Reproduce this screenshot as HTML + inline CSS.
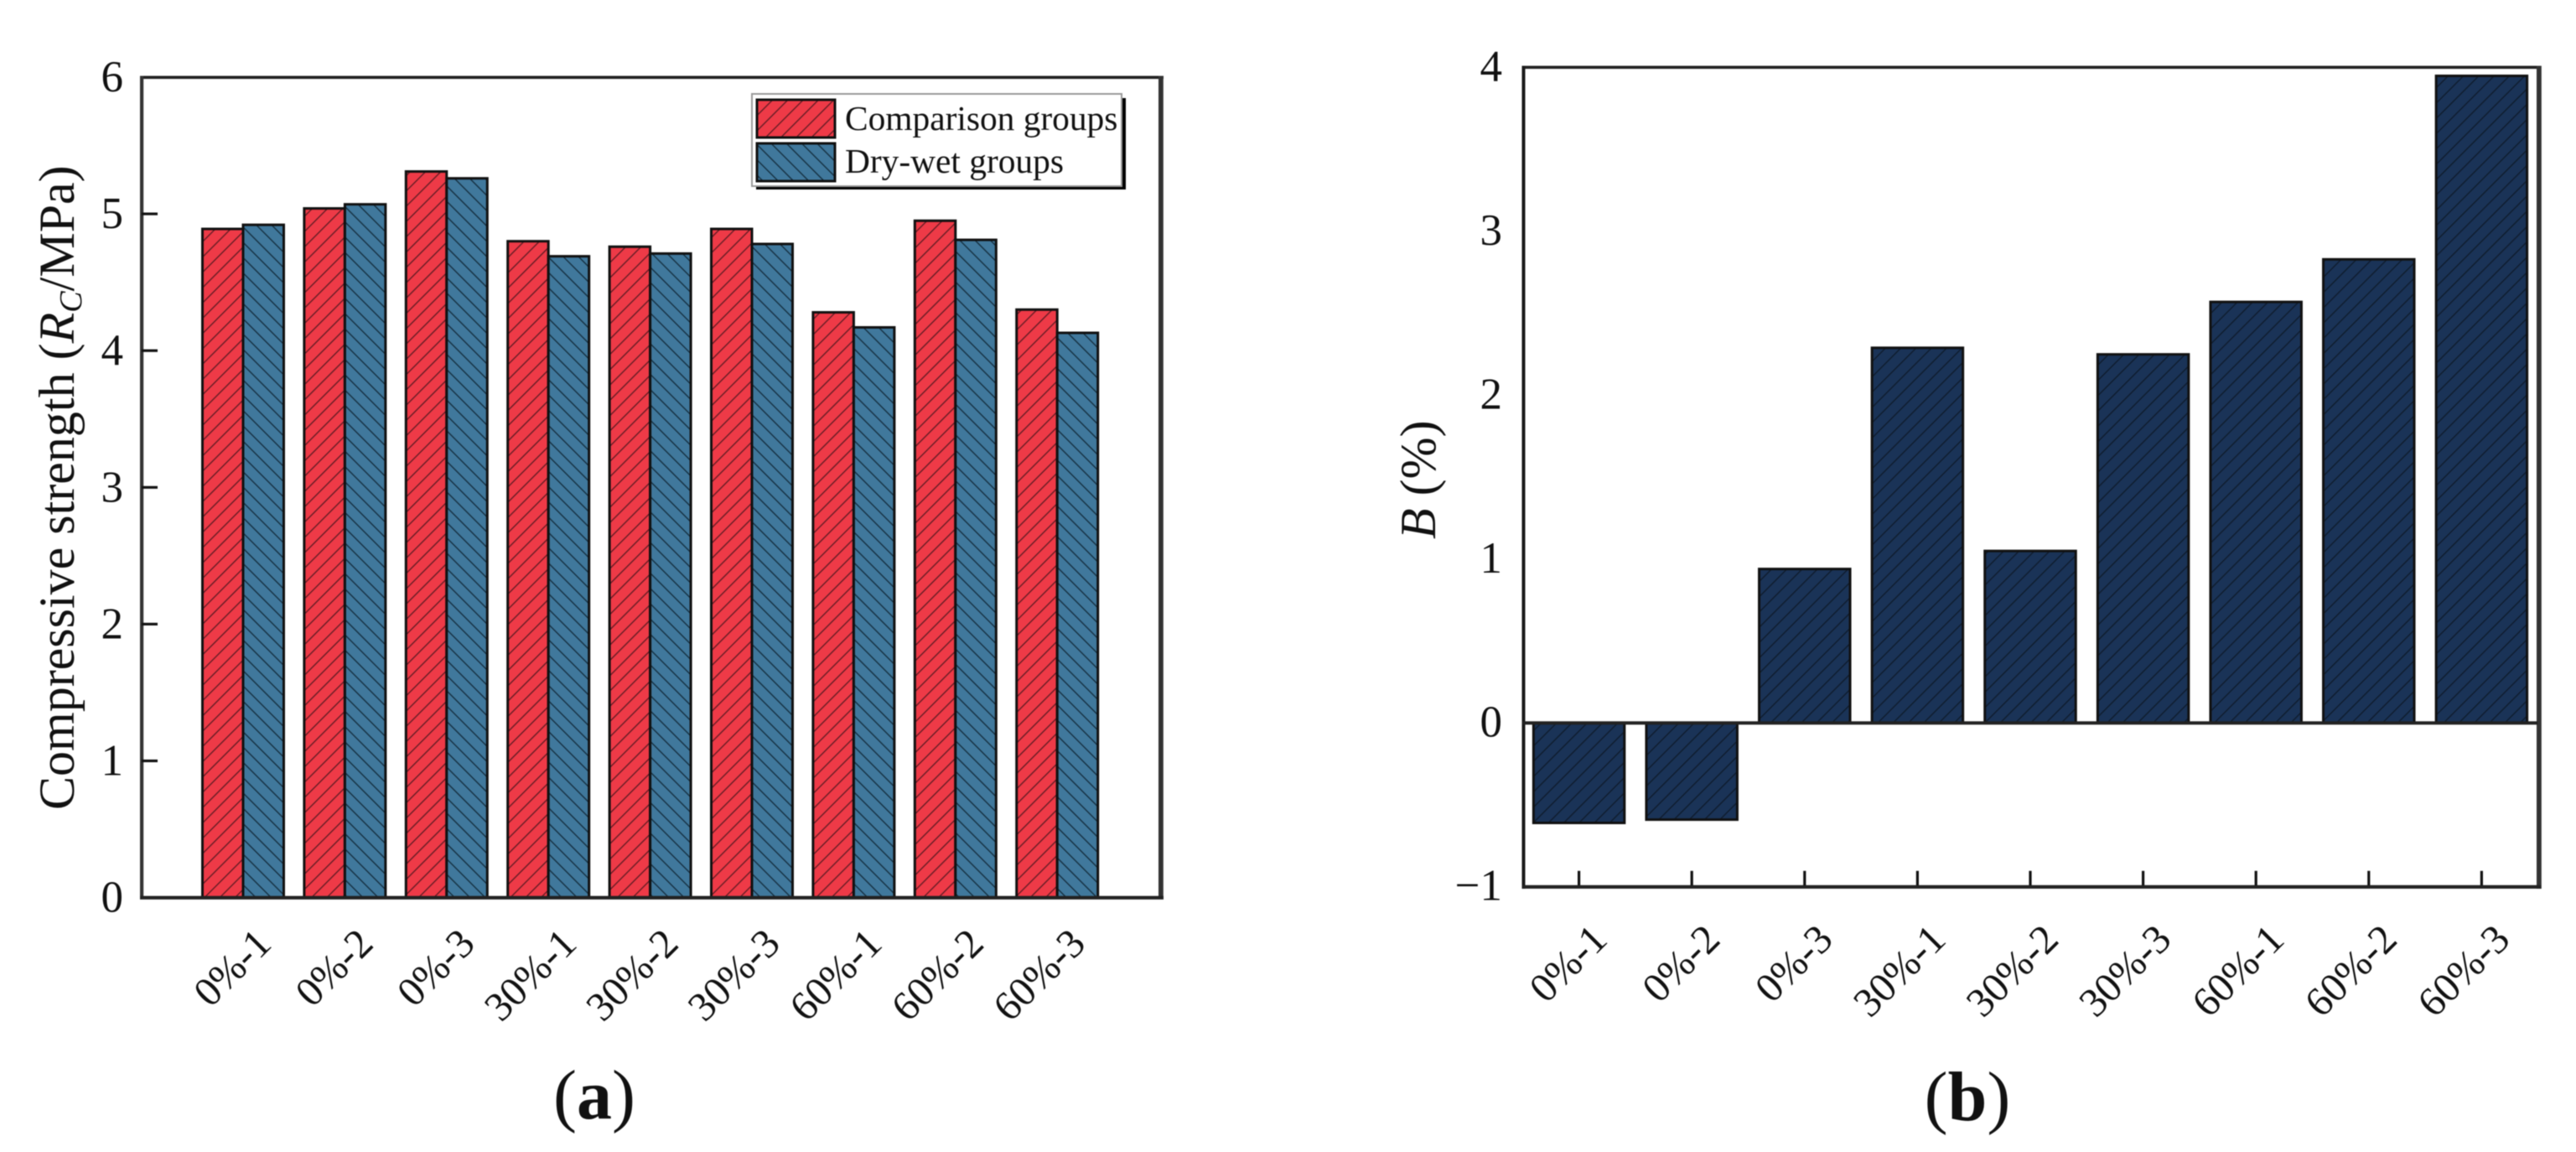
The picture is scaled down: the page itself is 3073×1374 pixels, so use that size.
<!DOCTYPE html>
<html>
<head>
<meta charset="utf-8">
<title>Compressive strength and B</title>
<style>
  html, body { margin: 0; padding: 0; background: #fff; }
  svg { display: block; filter: blur(0.5px); }
  text { font-family: "Liberation Serif", serif; fill: #111; }
</style>
</head>
<body>
<svg id="figure" xmlns="http://www.w3.org/2000/svg" width="3073" height="1374" viewBox="0 0 3073 1374">
  <defs>
    <pattern id="hatch-red" patternUnits="userSpaceOnUse" width="12.9" height="12.9" patternTransform="rotate(45)">
      <rect width="12.9" height="12.9" fill="#ee3a47"/>
      <rect x="0" y="0" width="1.3" height="12.9" fill="#5a1a22"/>
    </pattern>
    <pattern id="hatch-blue" patternUnits="userSpaceOnUse" width="12.9" height="12.9" patternTransform="rotate(-45)">
      <rect width="12.9" height="12.9" fill="#40789c"/>
      <rect x="0" y="0" width="1.3" height="12.9" fill="#122a3a"/>
    </pattern>
    <pattern id="hatch-navy" patternUnits="userSpaceOnUse" width="12.9" height="12.9" patternTransform="rotate(45)">
      <rect width="12.9" height="12.9" fill="#1a3357"/>
      <rect x="0" y="0" width="1.3" height="12.9" fill="#0e1a2a"/>
    </pattern>
  </defs>
  <rect width="3073" height="1374" fill="#fff"/>

  <g id="panel-a"></g>
  <g id="panel-b"></g>

  <text transform="translate(88,966) rotate(-90)" font-size="60">Compressive strength (<tspan font-style="italic">R</tspan><tspan font-style="italic" font-size="38" dy="9">C</tspan><tspan dy="-9">/MPa)</tspan></text>
  <text transform="translate(1712,643) rotate(-90)" font-size="60"><tspan font-style="italic">B</tspan> (%)</text>

  <g>
    <rect x="902" y="117" width="441" height="109" fill="#000"/>
    <rect x="897" y="112" width="441" height="110" fill="#fff" stroke="#999" stroke-width="2"/>
    <rect x="903" y="119" width="93" height="45" fill="url(#hatch-red)" stroke="#111" stroke-width="3"/>
    <rect x="903" y="171" width="93" height="45" fill="url(#hatch-blue)" stroke="#111" stroke-width="3"/>
    <text x="1008" y="155" font-size="41.4">Comparison groups</text>
    <text x="1008" y="206" font-size="41.4">Dry-wet groups</text>
  </g>

  <text x="709" y="1334" font-size="84" text-anchor="middle">(<tspan font-weight="bold">a</tspan>)</text>
  <text x="2347" y="1336" font-size="84" text-anchor="middle">(<tspan font-weight="bold">b</tspan>)</text>
</svg>

<script>
const categories = ["0%-1", "0%-2", "0%-3", "30%-1", "30%-2", "30%-3", "60%-1", "60%-2", "60%-3"];
const comparisonValues = [4.89, 5.04, 5.31, 4.80, 4.76, 4.89, 4.28, 4.95, 4.30];
const dryWetValues = [4.92, 5.07, 5.26, 4.69, 4.71, 4.78, 4.17, 4.81, 4.13];
const ratioValues = [-0.61, -0.59, 0.94, 2.29, 1.05, 2.25, 2.57, 2.83, 3.95];
const yTicksA = [0, 1, 2, 3, 4, 5, 6];
const yTicksB = [-1, 0, 1, 2, 3, 4];

const SVG_NS = "http://www.w3.org/2000/svg";
const panelA = document.getElementById("panel-a");
const panelB = document.getElementById("panel-b");

function xA(i) { return 290 + 121.4 * i; }
function yA(v) { return 1070.6 - 163.1 * v; }
function xB(i) { return 1883.6 + 134.6 * i; }
function yB(v) { return 862.3 - 195.4 * v; }

function makeRect(parent, x, y, w, h, fill, stroke, sw) {
  const r = document.createElementNS(SVG_NS, "rect");
  r.setAttribute("x", x);
  r.setAttribute("y", y);
  r.setAttribute("width", w);
  r.setAttribute("height", h);
  r.setAttribute("fill", fill);
  if (stroke) { r.setAttribute("stroke", stroke); r.setAttribute("stroke-width", sw); }
  parent.appendChild(r);
  return r;
}
function makeText(parent, str, x, y, size, anchor, transform) {
  const t = document.createElementNS(SVG_NS, "text");
  t.setAttribute("x", x);
  t.setAttribute("y", y);
  t.setAttribute("font-size", size);
  t.setAttribute("text-anchor", anchor);
  if (transform) t.setAttribute("transform", transform);
  t.textContent = str;
  parent.appendChild(t);
  return t;
}
function fmt(v) { return v < 0 ? "\u2212" + Math.abs(v) : String(v); }

/* Panel A bars */
const BAR_A = 48.5;
categories.forEach(function (c, i) {
  const y1 = yA(comparisonValues[i]);
  const red = makeRect(panelA, xA(i) - BAR_A, y1, BAR_A, yA(0) - y1, "url(#hatch-red)", "#111", 3);
  
  
  const y2 = yA(dryWetValues[i]);
  const blue = makeRect(panelA, xA(i), y2, BAR_A, yA(0) - y2, "url(#hatch-blue)", "#111", 3);
  
  
  const label = makeText(panelA, c, 0, 0, 49, "end", "translate(" + (xA(i) + 36) + ",1128) rotate(-45)");
  
  
});

/* Panel A frame */
const frameATop = makeRect(panelA, 167, 90.5, 1221, 3.6, "#222");


const frameALeft = makeRect(panelA, 167, 90.5, 4.2, 982, "#333");


const frameARight = makeRect(panelA, 1382, 90.5, 5.8, 982, "#333");


const frameABottom = makeRect(panelA, 167, yA(0) - 2, 1221, 4.2, "#222");



yTicksA.forEach(function (v) {
  if (v !== 0 && v !== 6) {
    const tick = makeRect(panelA, 169, yA(v) - 1.6, 19, 3.2, "#111");
    
    
  }
  const lab = makeText(panelA, fmt(v), 147, yA(v) + 17, 53, "end");
  
  
});

/* Panel B bars */
const BAR_B = 108.5;
categories.forEach(function (c, i) {
  const v = ratioValues[i];
  const top = Math.min(yB(v), yB(0));
  const h = Math.abs(yB(v) - yB(0));
  const bar = makeRect(panelB, xB(i) - BAR_B / 2, top, BAR_B, h, "url(#hatch-navy)", "#111", 3);
  
  
  const tick = makeRect(panelB, xB(i) - 1.6, yB(-1) - 19, 3.2, 19, "#111");
  
  
  const label = makeText(panelB, c, 0, 0, 49, "end", "translate(" + (xB(i) + 36) + ",1123) rotate(-45)");
  
  
});

/* Panel B frame */
const frameBTop = makeRect(panelB, 1815.5, 78.5, 1216, 3.6, "#222");


const frameBLeft = makeRect(panelB, 1815.5, 78.5, 4, 981.5, "#1a1a1a");


const frameBRight = makeRect(panelB, 3026, 78.5, 5.8, 981.5, "#333");


const frameBBottom = makeRect(panelB, 1815.5, yB(-1) - 2, 1216, 4.2, "#222");


const zeroLine = makeRect(panelB, 1815.5, yB(0) - 2, 1212, 4, "#222");



yTicksB.forEach(function (v) {
  const lab = makeText(panelB, fmt(v), 1792, yB(v) + 16, 53, "end");
  
  
});
</script>
</body>
</html>
